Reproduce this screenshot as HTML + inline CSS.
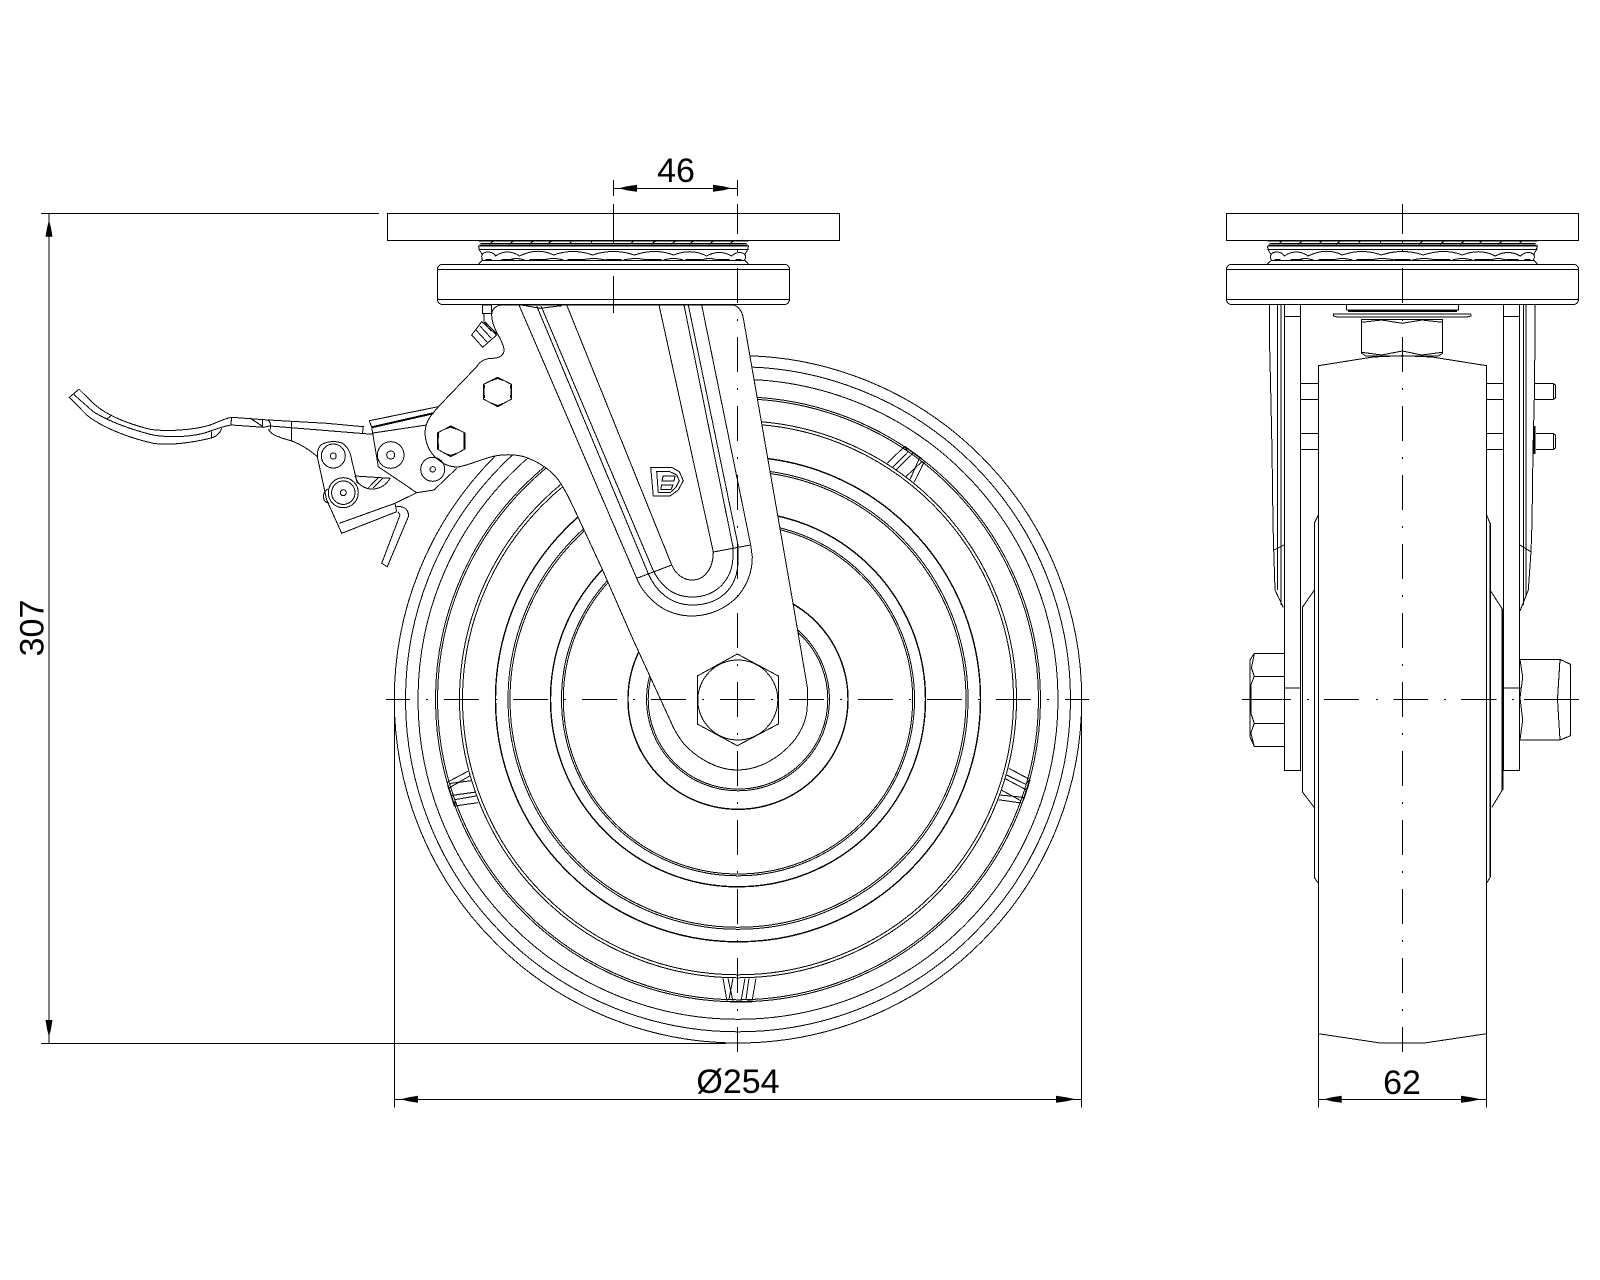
<!DOCTYPE html>
<html><head><meta charset="utf-8"><style>html,body{margin:0;padding:0;background:#fff}svg{display:block}text{font-family:"Liberation Sans",sans-serif;font-size:34px;fill:#000;text-anchor:middle}</style></head>
<body>
<svg width="1600" height="1280" viewBox="0 0 1600 1280" xmlns="http://www.w3.org/2000/svg" fill="none" stroke="#000" stroke-width="1" shape-rendering="crispEdges">
<defs>
<g id="brg">
<path d="M-135 241H135M-133 243.5H133M-134 245H134"/>
<path d="M-120 241l-4 3M-100 241l-4 3M-80 241l-4 3M-62 241l-4 3M-42 241l-2 3M-22 241l0 3M0 241l0 3M20 241l-3 3M42 241l-4 3M62 241l-4 3M80 241l-4 3M100 241l-4 3M120 241l-4 3"/>
<path d="M-135 246H135L134 250L131 255M-135 246L-134 250L-131 255M-135 249.3H135"/>
<path d="M-131 260Q-134 253-126 252Q-120 252-118 256Q-106 248-94 256Q-76 247-60 255Q-40 248-21 255Q0 248 21 255Q42 248 60 255Q78 248 93 256Q106 249 118 256Q124 251 129 253Q134 255 131 260"/>
<path d="M-132 260.7H132"/>
<path d="M-112 260H-100M-84 260H-68M-46 260H-30M-8 260H8M32 260H48M72 260H88M104 260H116M-128 260H-122M122 260H128" stroke-width="2"/>
<path d="M-105 260q8-3 16 0M-70 260q10-3 20 0M-32 260q12-3 24 0M10 260q12-3 24 0M50 260q10-3 20 0M88 260q8-3 16 0"/>
<path d="M-132 261L-135 264M132 261L135 264"/>
</g>
<g id="notch">
<path d="M-15 279L-11 302M-10 279L-5 302M-5 279L-9 300M7 279L3 302M11 279L8 300L13 302M18 279L14 302"/>
<path d="M-8 302.5H14" stroke-width="1.5"/>
</g>
</defs>

<!-- wheel circles -->
<g>
<circle cx="738" cy="699.3" r="343.7"/><circle cx="738" cy="699.3" r="332.5"/><circle cx="738" cy="699.3" r="320"/>
<circle cx="738" cy="699.3" r="302.5"/><circle cx="738" cy="699.3" r="300.5"/>
<circle cx="738" cy="699.3" r="278.5"/><circle cx="738" cy="699.3" r="275.5"/>
<circle cx="738" cy="699.3" r="242.5" stroke-width="1.4"/>
<circle cx="738" cy="699.3" r="230"/><circle cx="738" cy="699.3" r="228"/>
<circle cx="738" cy="699.3" r="187.5" stroke-width="1.4"/>
<circle cx="738" cy="699.3" r="176.5"/><circle cx="738" cy="699.3" r="174.7"/>
<circle cx="738" cy="699.3" r="110" stroke-width="1.4"/>
<circle cx="738" cy="699.3" r="91.5"/><circle cx="738" cy="699.3" r="89.8"/>
<use href="#notch" transform="translate(738 699.3)"/>
<use href="#notch" transform="translate(738 699.3) rotate(-72)"/>
<use href="#notch" transform="translate(738 699.3) rotate(-144)"/>
<use href="#notch" transform="translate(738 699.3) rotate(72)"/>
</g>

<!-- fork body -->
<path fill="#fff" d="M500 305C494 307 491.7 310 491.7 315C491.7 322 495 330 500 338.3C503 345 505 349 503.5 353C501 358 495 358.3 490 358.5C483 359 479 363 476.7 366.7L440 405L433 413C427 420 425 427 425 434C426 446 431 455 440 461C446 466 452 467 458 467C470 465 484 458 495 456C505 454 520 454 530 459C540 463 550 470 556 477C563 485 570 500 578 517L601.7 568L633.3 640L670 720C674 730 678 736 684 744C695 756 715 770 737.3 770C760 770 780 757 793 742C804 728 807.3 715 807.3 705L807.3 687L793.3 605L743.3 318C742 311 738 305 732 305Z"/>
<path d="M519 305L636.7 578.3C640 586 643 591 650 598C660 609 675 616 691.7 616C710 616 727 608 738 596C748 584 752.3 570 752.3 557L750.7 545L701.7 305"/>
<path d="M636.7 578.3L671.7 565M713.3 552L750.7 545"/>
<path d="M521.7 305L540 308.3L561.7 305.7"/>
<path d="M536.7 306L648 573C655 590 670 605 692 605C718 605 738 590 738 560L738 545L688.3 305"/>
<path d="M541 306L653 570C662 588 675 597 692 597C716 597 733 580 733 555L733 547L684 305"/>
<path d="M566.7 305L671.7 565C676 575 684 580 692 580C705 580 713.3 568 713.3 552L659 305"/>
<!-- logo -->
<path d="M650.7 467.3H671.7L679.3 471.7L683.3 480.7L678.3 490L670 496H653.3Z"/>
<path d="M656.7 471.7H670L676.7 475L679.3 480.7L676 487.3L670 492.7H658.3Z"/>
<path d="M663 476H675L674 481H662ZM661.5 485H673L671 489.5H661Z"/>
<!-- hex nut at hub -->
<path d="M737.3 654L778.3 676V724L737.3 745.7L697.3 724V676Z"/>
<circle cx="737.8" cy="700" r="40"/>

<!-- brake hardware -->
<path d="M482.7 305H491.7V313.3H482.7Z"/>
<path d="M484 313.3V322L491 331"/>
<path d="M471.7 335L481.7 321.7L496.7 335L482.7 347.3ZM476 330L487 342M480 326L491 338M485 322L497 334"/>
<path d="M497.7 377.3L511.7 384.5V399L497.7 406.7L483.3 399V384.5Z"/>
<path d="M484.5 385Q483.8 392 484.5 398M510.5 385Q511.2 392 510.5 398M492 380.5L497.7 378.5L503 380.5M492 403.5L497.7 405.5L503 403.5"/>
<path d="M450.7 426L465 433V449L450.7 456.7L437.3 449V433Z"/>
<path d="M438.5 433Q437.8 441 438.5 449M463.8 433Q464.5 441 463.8 449M445 429L450.7 427.2L456 429M445 453.5L450.7 455.4L456 453.5"/>
<!-- lever -->
<path d="M79 389.3L93.3 403.3C105 414 125 423 150 429.3C165 431.5 190 430.5 206.7 426C215 424 222 419 231.7 417.3L268.3 420L326.7 423.3L363.3 426.7L362.5 433"/>
<path d="M79 389.3L69.3 397.3L86.7 415C100 426 125 437 153.3 443.3C170 446 195 442 210 438.3C216 437 220 433 221.7 428.3"/>
<path d="M73.3 394L93.3 411.7C108 421 130 429 150 434.3C165 438 190 437 203.3 433.3C212 431 222 426 231.7 425L263.3 427.3L270 426L360 433.3L373.3 434.3"/>
<path d="M231.7 417.3L230.7 425M106.7 419.3L111.7 415M211.7 431.7V437.3M250 418L262 426M262.7 420V427.3M268.3 420Q272 424 270 430"/>
<path d="M268.3 429.3C272 436 282 438 291.7 441C300 444 310 450 317.3 456.7M291.7 421V441"/>
<path d="M317.3 456.7L326.7 500L341.7 533.3L396.7 511.7M339.3 523.3L395 503.3L416.7 492.7L434 490L456.7 468.3M395 503.3L396.7 511.7"/>
<path d="M317.3 456.7Q317 445 325 443Q333 440 342 443Q350 448 351.7 460L357.3 483.3"/>
<circle cx="333.3" cy="456" r="12"/><circle cx="333.3" cy="456" r="3"/>
<circle cx="343.3" cy="492.7" r="15"/><circle cx="343.3" cy="492.7" r="11.7"/><circle cx="343.3" cy="492.7" r="3"/>
<path d="M328 489Q322 492 324 500Q326 503 329 503"/>
<path d="M396.7 506.7Q404 506 406.7 510Q409 513 408.3 516.7L387.3 566.7L381.7 563.3L400 515L398 511.7"/>
<path d="M355 476L390 478.3Q385 487 376 488.7Q368 490 362 486Q357 483 355 476M368.3 488L378 478M373 488L383 478"/>
<path d="M369.3 420.7L438.3 406.7M369.3 420.7L371.7 427.3"/>
<path d="M371.7 427.3L433.3 413.3" stroke-width="2"/>
<path d="M373 433L426.7 425M371.7 427.3L378.3 466.7L416.7 492.7"/>
<circle cx="390.7" cy="455" r="13.3"/><circle cx="390.7" cy="455" r="4"/>
<circle cx="432.7" cy="469.3" r="12"/><circle cx="432.7" cy="469.3" r="2.7"/>

<!-- front plates -->
<rect x="387.5" y="213.5" width="452" height="27"/>
<use href="#brg" x="613.5"/>
<rect x="437.5" y="264.3" width="352" height="40.2" rx="5" fill="#fff"/>
<path d="M437.5 269.3H789.5M437.5 299.3H789.5"/>

<!-- right view plates -->
<rect x="1226.5" y="213.5" width="352" height="27"/>
<use href="#brg" x="1402.3"/>
<rect x="1226.5" y="264.3" width="352" height="40.2" rx="5"/>
<path d="M1226.5 269.3H1578.5M1226.5 299.3H1578.5"/>

<!-- right view body -->
<path d="M1318.3 1107.4V365.7L1373 357L1402 355.7L1432 357L1486.7 365.7V1107.4"/>
<path d="M1318.3 1033.7L1381.7 1043.2H1423L1486.7 1033.7"/>
<path d="M1269.3 305V333L1270.7 390L1272 450L1273 523L1273.7 550L1275 590L1283.3 607.5"/>
<path d="M1277.7 305V590M1281 305V605M1284.3 305V770.6H1300.3V305M1284.3 316.7H1300.3M1284.3 688.2H1300.3"/>
<path d="M1274 550L1284 545"/>
<path d="M1535 305V333L1534.5 390L1533 450L1532 523L1531 551.7L1528.3 590L1520 611"/>
<path d="M1526 305V595M1523.3 305V605M1519.3 305V770.6H1503.3V305M1503.3 316.7H1519.3M1503.3 688.2H1521"/>
<path d="M1520 545L1530.7 551.7"/>
<path d="M1300.3 383.3H1318.3M1300.3 399.3H1318.3M1300.3 433.3H1318.3M1300.3 449.3H1318.3"/>
<path d="M1486.7 383.3H1503.3M1486.7 399.3H1503.3M1486.7 433.3H1503.3M1486.7 449.3H1503.3"/>
<path d="M1534 383.3H1553.3L1555.3 385V398L1553.3 399.3H1534M1553.3 383.3V399.3"/>
<path d="M1536 433.3H1553.3L1555.3 435V448L1553.3 449.3H1536M1553.3 433.3V449.3"/>
<path d="M1534.5 426V454" stroke-width="2"/>
<!-- hub bosses -->
<path d="M1318.3 515L1314.3 523.3V877.6L1318.3 883M1314.3 590L1302.3 607.5V791.7L1314.3 807.5"/>
<path d="M1486.7 515L1490 523.3V877.6L1486.7 883"/>
<path d="M1490 523V877" stroke-width="1.5"/>
<path d="M1502.3 609V790" stroke-width="2"/>
<path d="M1490 590L1502.3 609M1502.3 790L1491.7 807.5"/>
<!-- flange + nut -->
<path d="M1346.7 305V310H1458.3V305"/>
<path d="M1348 311H1457" stroke-width="2"/>
<path d="M1333.3 314H1470.7L1471 316L1466.7 317H1337.7L1333.3 316ZM1361.7 319.3H1442.7"/>
<path d="M1361.7 319V353.3L1366 356H1438L1442.7 353.3V319M1361.7 322.3L1381.7 320L1402.3 323.3L1421.7 320L1442.7 322.3M1361.7 352.3L1381.7 355L1402.3 351L1421.7 355L1442.7 352.3"/>
<!-- left bolt -->
<path d="M1284.3 653.5H1254.3L1250 660V737L1254.3 746.4H1284.3M1254.3 676.3H1284.3M1254.3 723.3H1284.3"/>
<path d="M1254.3 653.5L1251.5 668L1254.3 676.3L1250.8 685V713L1254.3 723.3L1250.8 733L1254.3 746.4"/>
<!-- right nut -->
<path d="M1520 659.4H1560L1570.7 664.4V735.6L1560 740H1520"/>
<path d="M1520 659.4L1522.7 677L1520 698L1522.7 720L1520 740M1560 659.4L1557.5 699.4L1560 740"/>

<!-- centre lines -->
<g>
<line x1="386" y1="699.4" x2="1089" y2="699.4" stroke-dasharray="35 16 2 16" stroke-dashoffset="11"/>
<line x1="737.5" y1="204" x2="737.5" y2="1052" stroke-dasharray="35 16 2 16" stroke-dashoffset="5"/>
<line x1="1402.3" y1="204" x2="1402.3" y2="1052" stroke-dasharray="35 16 2 16" stroke-dashoffset="5"/>
<path d="M613.3 204V241M613.3 276V313"/>
<path d="M1242 699.4H1291M1307 699.4H1309M1324 699.4H1359M1376 699.4H1378M1393.3 699.4H1428M1444 699.4H1446M1461 699.4H1496.7M1512 699.4H1514M1524 699.4H1579"/>
</g>

<!-- dimensions -->
<path d="M613.3 180V196M737.3 180V196M613.3 188.3H737.3"/>
<path fill="#000" stroke="none" shape-rendering="auto" d="M619 188.3L627 186.2L637 184.8V191.8L627 190.4ZM731.5 188.3L723 186.2L713 184.8V191.8L723 190.4Z"/>
<path d="M41 213.5H379M49 213.5V1043.3M41 1043.3H726"/>
<path fill="#000" stroke="none" shape-rendering="auto" d="M49 220L51 228L52.5 236.7H45.5L47 228ZM49 1037L51 1029L52.5 1020H45.5L47 1029Z"/>
<path d="M394.7 707V1107.3M1081.7 707V1107.3M394.7 1099.3H1081.7"/>
<path fill="#000" stroke="none" shape-rendering="auto" d="M400.7 1099.3L409 1097.2L418 1095.8V1102.8L409 1101.4ZM1075.6 1099.3L1066 1097.2L1056 1095.8V1102.8L1066 1101.4Z"/>
<path d="M1318.3 1099.3H1486.7"/>
<path fill="#000" stroke="none" shape-rendering="auto" d="M1324 1099.3L1332 1097.2L1341.7 1095.8V1102.8L1332 1101.4ZM1480.7 1099.3L1471 1097.2L1461 1095.8V1102.8L1471 1101.4Z"/>

<!-- labels -->
<g stroke="none" shape-rendering="auto">
<text x="676" y="182">46</text>
<text x="738" y="1093">Ø254</text>
<text x="1402" y="1094">62</text>
<text x="0" y="0" transform="translate(43.5 628) rotate(-90)">307</text>
</g>
</svg>
</body></html>
